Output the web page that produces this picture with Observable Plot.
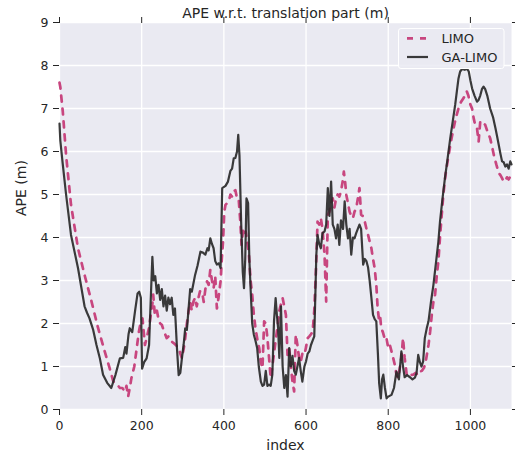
<!DOCTYPE html>
<html><head><meta charset="utf-8">
<script src="https://cdn.jsdelivr.net/npm/d3@7"></script>
<script src="https://cdn.jsdelivr.net/npm/@observablehq/plot@0.6"></script>
<style>html,body{margin:0;padding:0;background:#fff} svg{display:block}</style>
</head><body><div id="chart"></div>
<script>
const titleText = "APE w.r.t. translation part (m)";
const xLabel = "index";
const yLabel = "APE (m)";
const seriesNames = ["LIMO", "GA-LIMO"];
const xTicks = [0, 200, 400, 600, 800, 1000];
const yTicks = [0, 1, 2, 3, 4, 5, 6, 7, 8, 9];

const limoIndex = [0,2,8,16,28,45,61,78,94,110,122,131,139,147,153,159,163,167,171,175,182,188,193,198,202,205,208,213,218,222,226,228,232,237,241,245,249,255,261,265,270,277,283,290,294,298,302,306,310,314,318,322,326,330,334,338,342,347,351,355,359,363,367,371,375,379,383,387,392,395,398,401,404,408,412,416,420,424,428,432,436,440,443,447,450,453,457,461,465,469,473,477,482,486,490,494,498,502,506,510,514,518,522,526,530,535,539,543,547,551,555,559,563,567,571,575,579,583,587,591,596,600,604,608,612,616,620,624,628,632,636,640,645,649,653,657,661,665,669,673,677,681,685,689,692,695,698,702,706,710,714,718,722,726,730,734,738,743,747,751,755,759,763,767,771,774,777,780,783,787,791,795,800,804,808,812,816,820,824,828,832,836,840,845,850,855,861,867,872,877,882,887,891,894,898,902,906,910,914,918,922,926,930,934,940,947,953,959,965,971,977,983,987,991,995,1000,1004,1008,1012,1016,1020,1024,1028,1032,1036,1042,1048,1053,1057,1063,1069,1073,1077,1081,1085,1089,1093,1097,1100];
const limoValues = [7.6,7.5,6.93,5.92,4.76,3.75,3.13,2.51,1.89,1.35,0.96,0.65,0.6,0.5,0.5,0.42,0.55,0.3,0.5,0.73,1.0,1.43,1.8,2.05,2.12,1.8,1.5,1.7,1.9,2.2,2.45,2.67,2.2,2.3,2.1,2.0,1.97,1.8,1.66,1.7,1.6,1.55,1.5,1.43,1.3,1.19,1.4,1.66,2.0,2.28,2.5,2.3,2.51,2.6,2.4,2.59,2.75,2.74,2.5,2.8,2.98,2.9,3.25,3.0,2.82,3.1,2.35,2.6,2.98,3.5,3.9,4.6,4.76,4.8,4.84,5.0,4.95,5.07,5.1,4.91,4.9,4.37,3.83,4.2,4.1,4.14,3.9,3.6,3.0,2.67,2.2,1.89,1.6,1.43,1.1,0.96,2.05,2.0,1.66,1.2,0.73,1.0,1.3,1.6,1.89,2.3,2.45,2.59,2.4,2.2,1.27,1.43,1.0,0.65,0.42,1.74,1.5,1.2,1.1,1.3,1.27,1.45,1.66,1.7,1.75,1.81,2.3,3.21,4.37,4.3,4.45,4.2,3.6,2.51,4.53,4.6,4.8,4.91,4.7,4.9,5.0,4.95,5.07,5.3,5.53,5.3,4.99,4.8,4.6,4.5,4.45,4.6,4.68,4.9,5.15,4.53,4.5,4.37,4.2,4.06,3.9,3.75,3.5,3.29,2.9,2.4,2.12,2.2,1.89,1.8,1.66,1.7,1.43,1.5,1.35,1.2,1.04,0.81,0.73,0.96,1.2,1.66,1.2,0.81,0.85,0.8,0.81,0.85,0.8,0.88,0.9,0.97,1.1,1.27,1.5,1.81,2.2,2.51,2.67,3.1,3.44,4.0,4.5,4.99,5.5,5.92,6.25,6.54,6.8,7.0,7.15,7.24,7.3,7.4,7.3,7.09,7.0,6.77,6.6,6.54,6.23,6.7,6.7,6.65,6.62,6.45,6.31,6.1,5.92,5.7,5.5,5.45,5.38,5.3,5.32,5.4,5.35,5.42,5.45];

const gaIndex = [0,2,8,16,28,45,61,67,73,82,90,98,106,116,126,136,147,155,160,163,168,171,177,184,190,194,198,201,206,212,218,223,226,229,233,237,241,245,249,253,257,261,265,269,273,277,281,286,290,294,298,302,306,310,318,322,330,336,343,349,355,360,363,367,371,375,379,383,388,392,396,404,410,416,420,424,428,432,435,438,442,446,449,452,455,459,462,465,469,473,477,481,485,490,494,498,502,506,510,514,518,522,526,529,532,535,539,543,547,551,555,559,563,567,571,575,579,583,587,591,596,600,604,608,612,616,620,623,625,628,632,636,640,645,649,653,657,661,665,669,673,677,681,685,690,694,698,702,706,710,714,718,722,726,730,734,739,743,747,751,755,759,763,767,771,775,778,782,785,788,792,796,800,808,814,820,826,832,836,840,846,853,859,865,869,873,877,881,885,889,894,898,904,910,916,922,926,932,938,944,951,957,963,967,971,975,980,986,992,996,1000,1004,1010,1016,1020,1024,1028,1032,1036,1041,1048,1055,1061,1065,1069,1073,1077,1081,1085,1089,1093,1097,1100];
const gaValues = [6.65,6.25,5.7,5.0,4.06,3.29,2.4,2.25,2.12,1.85,1.5,1.2,0.81,0.62,0.5,0.8,1.19,1.2,1.45,1.3,1.75,1.89,1.8,2.3,2.7,2.74,2.6,0.95,1.1,1.19,1.5,2.8,3.55,3.0,3.1,2.7,2.9,2.55,2.8,2.4,2.65,2.3,2.6,2.45,2.6,2.2,2.35,1.4,0.8,0.85,1.2,1.5,1.89,1.85,2.8,2.74,3.13,3.35,3.67,3.65,3.6,3.75,3.7,3.98,3.85,3.75,3.45,3.37,3.4,3.29,5.15,5.2,5.3,5.55,5.6,5.84,5.85,6.0,6.39,5.9,4.37,3.2,2.82,3.5,4.91,4.8,3.5,2.82,2.0,1.74,1.6,1.43,1.0,0.65,0.55,0.58,0.9,0.55,0.58,0.55,0.81,2.05,2.59,2.2,1.9,1.2,2.4,1.0,0.5,0.8,0.3,1.43,1.0,1.25,0.9,0.81,1.0,1.2,0.9,0.65,1.0,1.12,1.3,1.35,1.5,1.6,1.7,2.8,3.6,4.06,3.85,3.75,4.1,4.14,4.3,5.15,4.5,5.3,4.3,4.2,3.98,4.3,3.83,4.4,4.2,4.84,4.3,3.98,4.2,3.6,4.0,3.98,4.1,4.2,4.3,4.2,3.37,3.5,3.45,3.3,2.98,2.6,2.2,2.1,2.05,1.27,0.6,0.26,0.7,0.81,0.5,0.26,0.3,0.34,0.5,0.88,0.7,1.35,1.0,0.75,0.8,0.75,0.7,0.74,0.85,1.27,1.1,1.0,1.12,1.66,1.9,2.05,2.5,2.9,3.4,3.9,4.37,4.9,5.38,5.8,6.31,6.7,7.09,7.4,7.7,7.86,7.92,7.9,7.92,7.86,7.65,7.47,7.3,7.16,7.2,7.3,7.45,7.51,7.45,7.3,7.0,6.8,6.54,6.35,6.15,5.95,5.77,5.75,5.65,5.7,5.6,5.77,5.7];

const limo = limoIndex.map((x, i) => ({index: x, ape: limoValues[i]}));
const ga = gaIndex.map((x, i) => ({index: x, ape: gaValues[i]}));

const pink = "#c8467f";
const dark = "#262626";
const font = "DejaVu Sans, sans-serif";

const svg = Plot.plot({
  width: 515,
  height: 458,
  marginLeft: 59,
  marginRight: 4,
  marginTop: 22,
  marginBottom: 49,
  style: {fontFamily: font, fontSize: "12.5px", color: "#262626", background: "#ffffff", overflow: "visible"},
  x: {domain: [0, 1100]},
  y: {domain: [0, 9]},
  marks: [
    Plot.frame({fill: "#EAEAF2", stroke: "none"}),
    Plot.gridX(xTicks, {stroke: "#ffffff", strokeOpacity: 1, strokeWidth: 1.3}),
    Plot.gridY(yTicks, {stroke: "#ffffff", strokeOpacity: 1, strokeWidth: 1.3}),
    Plot.axisX(xTicks, {anchor: "bottom", tickSize: 6, tickPadding: 6, label: null, fontSize: 12.5, tickFormat: d => String(d)}),
    Plot.axisX(xTicks, {anchor: "top", tickSize: 6, tickFormat: () => "", label: null}),
    Plot.axisY(yTicks, {anchor: "left", tickSize: 6, tickPadding: 5, label: null, fontSize: 12.5, tickFormat: d => String(d)}),
    Plot.axisY(yTicks, {anchor: "right", tickSize: 5, tickFormat: () => "", label: null}),
    Plot.line(limo, {x: "index", y: "ape", stroke: pink, strokeWidth: 2.7, strokeDasharray: "6,7"}),
    Plot.line(ga, {x: "index", y: "ape", stroke: dark, strokeOpacity: 0.9, strokeWidth: 2.2}),
    Plot.text([titleText], {frameAnchor: "top", dy: -14, fontSize: 14, fill: "#262626"}),
    Plot.text([xLabel], {frameAnchor: "bottom", dy: 40, fontSize: 14, fill: "#262626"}),
    Plot.text([yLabel], {frameAnchor: "left", dx: -38, rotate: -90, fontSize: 14, fill: "#262626"})
  ]
});

// Legend (top-right, inside the axes)
const lg = d3.select(svg).append("g").attr("font-family", font).attr("font-size", 13).attr("text-anchor", "start");
lg.append("rect").attr("x", 398.5).attr("y", 28.5).attr("width", 105.5).attr("height", 40)
  .attr("rx", 2.5).attr("fill", "#EAEAF2").attr("fill-opacity", 0.85).attr("stroke", "#ffffff").attr("stroke-width", 1);
const entries = [
  {name: seriesNames[0], color: pink, dash: "6,7", width: 2.7, opacity: 1, y: 38.3},
  {name: seriesNames[1], color: dark, dash: null, width: 2.2, opacity: 0.9, y: 57}
];
entries.forEach(e => {
  lg.append("line").attr("x1", 407).attr("x2", 428).attr("y1", e.y).attr("y2", e.y)
    .attr("stroke", e.color).attr("stroke-width", e.width).attr("stroke-opacity", e.opacity)
    .attr("stroke-dasharray", e.dash);
  lg.append("text").attr("x", 441.5).attr("y", e.y).attr("dy", "0.35em").attr("text-anchor", "start")
    .attr("fill", "#262626").text(e.name);
});

document.getElementById("chart").appendChild(svg);
</script>
</body></html>
